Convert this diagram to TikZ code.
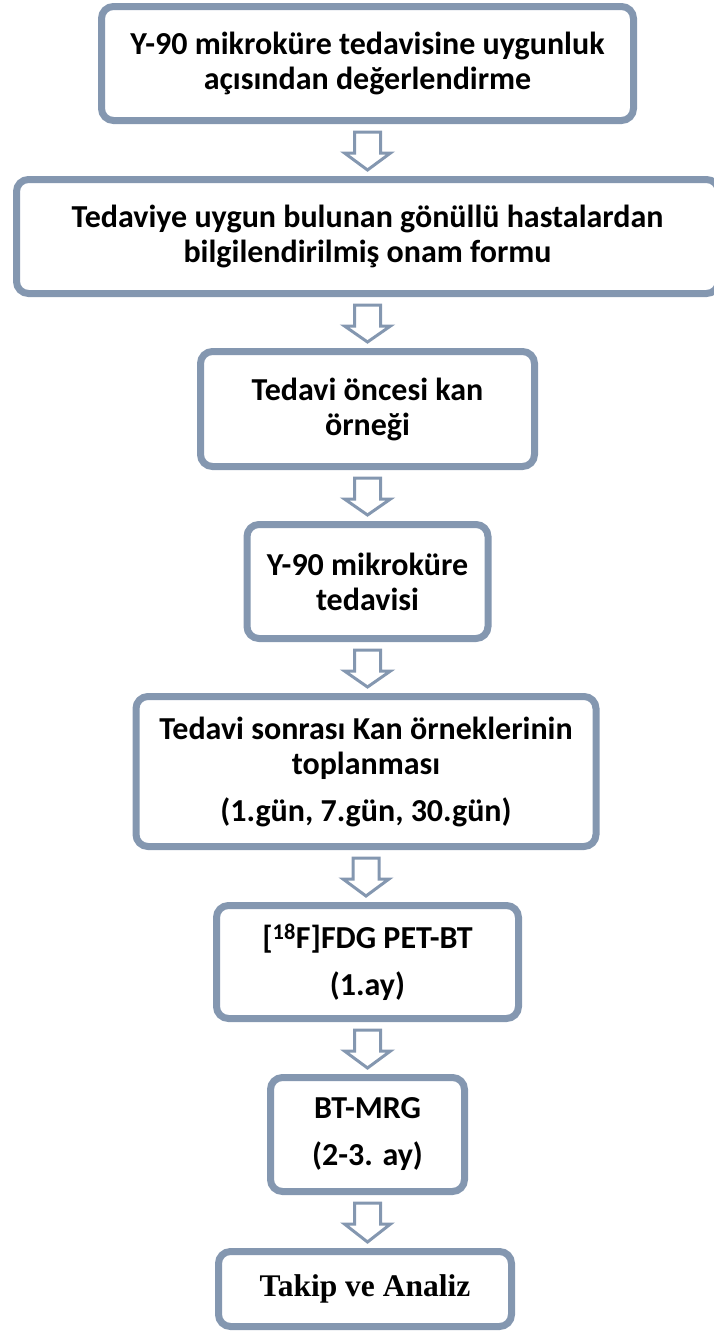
\documentclass[tikz,border=0pt]{standalone}
\usepackage{fontspec}
\setmainfont{Carlito}
\newfontfamily\timesfont{Liberation Serif}
\usepackage{xcolor}
\usepackage{tikz}
\usetikzlibrary{calc}
\definecolor{flowgray}{RGB}{132,151,176}

\begin{document}
\begin{tikzpicture}[x=1pt, y=-1pt, font=\fontsize{32}{35}\selectfont\bfseries,
		stepbox/.style={draw=flowgray, line width=7pt, rounded corners=12pt, fill=white, align=center, inner sep=0pt},
		blockarrow/.style={draw=flowgray, line width=3pt, fill=white, line join=miter}]
			\useasboundingbox (0,0) rectangle (714,1331);
			\node[stepbox, minimum width=532pt, minimum height=114pt] (eval) at (367.5,63.5)
			{Y-90 mikroküre tedavisine uygunluk\\açısından değerlendirme};
			\node[stepbox, minimum width=702pt, minimum height=114pt] (consent) at (367.5,236.5)
			{Tedaviye uygun bulunan gönüllü hastalardan\\bilgilendirilmiş onam formu};
			\node[stepbox, minimum width=334pt, minimum height=115pt] (preblood) at (367.5,409)
			{Tedavi öncesi kan\\örneği};
			\node[stepbox, minimum width=241pt, minimum height=114pt] (therapy) at (367.5,581.5)
			{Y-90 mikroküre\\tedavisi};
			\node[stepbox, minimum width=460pt, minimum height=150pt] (postblood) at (366,771.5)
			{Tedavi sonrası Kan örneklerinin\\toplanması\\[12pt](1.gün, 7.gün, 30.gün)};
			\node[stepbox, minimum width=302pt, minimum height=113pt] (petct) at (367.5,962)
			{[\textsuperscript{18}F]FDG PET-BT\\[12pt](1.ay)};
			\node[stepbox, minimum width=194pt, minimum height=114pt] (ctmri) at (367.5,1134.5)
			{BT-MRG\\[12pt](2-3. ay)};
			\node[stepbox, minimum width=293pt, minimum height=75pt,
			font=\timesfont\fontsize{31.5}{37}\selectfont\bfseries] (followup) at (365,1289)
			{Takip ve Analiz};
			% hollow block arrows between the steps
			\foreach \a/\b in {eval/consent, consent/preblood, preblood/therapy, therapy/postblood,
				postblood/petct, petct/ctmri, ctmri/followup}
			\draw[blockarrow] ($(\a.south)+(-13,8)$) -- ($(\a.south)+(13,8)$) -- ($(\a.south)+(13,29)$)
			-- ($(\a.south)+(23,29)$) -- ($(\a.south |- \b.north)+(0,-6)$) -- ($(\a.south)+(-23,29)$)
			-- ($(\a.south)+(-13,29)$) -- cycle;
		\end{tikzpicture}
\end{document}
